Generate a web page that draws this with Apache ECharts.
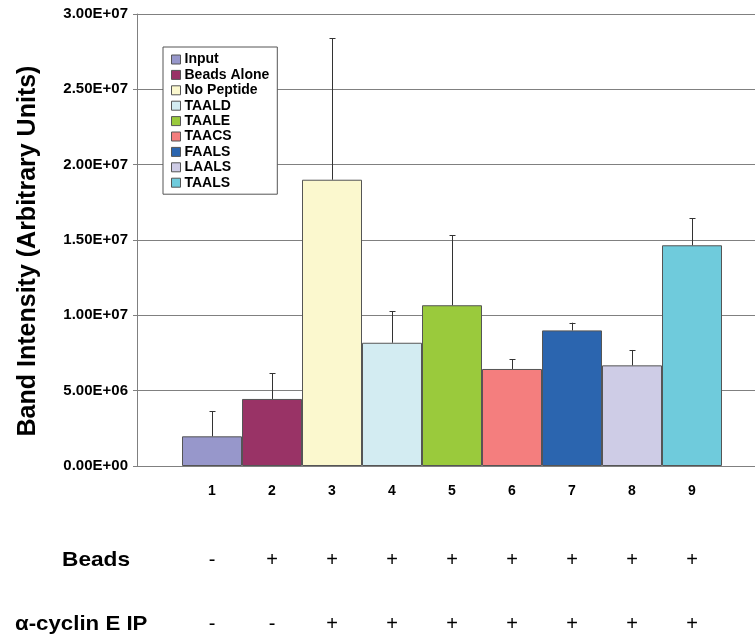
<!DOCTYPE html>
<html>
<head>
<meta charset="utf-8">
<script src="https://cdn.jsdelivr.net/npm/echarts@6/dist/echarts.min.js"></script>
<style>
  html, body { margin: 0; padding: 0; background: #ffffff; }
  #chart { width: 755px; height: 637px; }
</style>
</head>
<body>
<div id="chart"></div>
<script>
// Lane numbers under the bars
const lanes = ['1', '2', '3', '4', '5', '6', '7', '8', '9'];
// Sample names (legend order = lane order)
const samples = ['Input', 'Beads Alone', 'No Peptide', 'TAALD', 'TAALE', 'TAACS', 'FAALS', 'LAALS', 'TAALS'];
// Mean band intensity per lane
const intensity = [1.97e6, 4.45e6, 1.90e7, 8.18e6, 1.067e7, 6.44e6, 9.0e6, 6.68e6, 1.465e7];
// Upper error (standard deviation) per lane
const errorUp = [1.66e6, 1.72e6, 9.39e6, 2.09e6, 4.64e6, 0.66e6, 0.51e6, 1.02e6, 1.79e6];
// Condition rows shown below the lanes
const beadsRow = ['-', '+', '+', '+', '+', '+', '+', '+', '+'];
const ipRow = ['-', '-', '+', '+', '+', '+', '+', '+', '+'];
// Y axis range and step
const yMin = 0, yMax = 3e7, yStep = 5e6;

const colors = ['#9797CB', '#993366', '#FBF8CE', '#D3ECF2', '#9ACA3C', '#F47E7E', '#2B65AF', '#CECCE6', '#6FCBDC'];
const FONT = 'Liberation Sans, Arial, sans-serif';

function sci(v) {
  const parts = v.toExponential(2).split('e');
  const exp = parseInt(parts[1], 10);
  const sign = exp < 0 ? '-' : '+';
  const mag = String(Math.abs(exp)).padStart(2, '0');
  return parts[0] + 'E' + sign + mag;
}

const chart = echarts.init(document.getElementById('chart'), null, { renderer: 'canvas' });

const barSeries = samples.map((name, i) => ({
  name: name,
  type: 'bar',
  xAxisIndex: 1,
  yAxisIndex: 1,
  barWidth: '100%',
  barGap: '-100%',
  data: lanes.map((_, j) => (j === i ? intensity[i] : '-')),
  itemStyle: { color: colors[i], borderColor: '#555555', borderWidth: 1 },
  emphasis: { disabled: true },
  z: 2
}));

const errorSeries = {
  type: 'custom',
  xAxisIndex: 1,
  yAxisIndex: 1,
  z: 5,
  silent: true,
  data: intensity.map((v, i) => [i, v, v + errorUp[i]]),
  renderItem: function (params, api) {
    const base = api.coord([api.value(0), api.value(1)]);
    const top = api.coord([api.value(0), api.value(2)]);
    const cap = 3;
    const x = Math.round(base[0]) + 0.5;
    const st = { stroke: '#333333', lineWidth: 1 };
    return {
      type: 'group',
      children: [
        { type: 'line', shape: { x1: x, y1: base[1], x2: x, y2: top[1] }, style: st },
        { type: 'line', shape: { x1: x - cap, y1: Math.round(top[1]) + 0.5, x2: x + cap, y2: Math.round(top[1]) + 0.5 }, style: st }
      ]
    };
  }
};

chart.setOption({
  animation: false,
  backgroundColor: '#ffffff',
  grid: [
    { left: 137, top: 14, width: 630, height: 452 },
    { left: 182, top: 14, width: 540, height: 452 }
  ],
  xAxis: [
    {
      gridIndex: 0, type: 'value', min: 0, max: 1,
      axisLine: { show: true, lineStyle: { color: '#808080', width: 1 } },
      axisTick: { show: false }, axisLabel: { show: false }, splitLine: { show: false }
    },
    {
      gridIndex: 1, type: 'category', data: lanes,
      axisLine: { show: false }, axisTick: { show: false },
      axisLabel: { margin: 18, fontFamily: FONT, fontWeight: 'bold', fontSize: 14, color: '#000000' }
    },
    {
      gridIndex: 1, type: 'category', data: lanes, position: 'bottom', offset: 76,
      axisLine: { show: false }, axisTick: { show: false },
      axisLabel: { margin: 8, fontFamily: FONT, fontSize: 20, color: '#000000', formatter: (v, i) => beadsRow[i] }
    },
    {
      gridIndex: 1, type: 'category', data: lanes, position: 'bottom', offset: 140,
      axisLine: { show: false }, axisTick: { show: false },
      axisLabel: { margin: 8, fontFamily: FONT, fontSize: 20, color: '#000000', formatter: (v, i) => ipRow[i] }
    }
  ],
  yAxis: [
    {
      gridIndex: 0, type: 'value', min: yMin, max: yMax, interval: yStep,
      axisLine: { show: true, lineStyle: { color: '#808080', width: 1 } },
      axisTick: { show: true, inside: false, length: 4, lineStyle: { color: '#808080' } },
      axisLabel: { margin: 9, fontFamily: FONT, fontWeight: 'bold', fontSize: 15, color: '#000000', formatter: sci },
      splitLine: { show: true, lineStyle: { color: '#808080', width: 1 } }
    },
    {
      gridIndex: 1, type: 'value', min: yMin, max: yMax, interval: yStep, show: false,
      splitLine: { show: false }
    }
  ],
  legend: {
    data: samples,
    orient: 'vertical',
    left: 163,
    top: 47,
    padding: [5, 8, 4, 8],
    itemWidth: 9,
    itemHeight: 9,
    itemGap: 0.4,
    icon: 'rect',
    backgroundColor: '#ffffff',
    borderColor: '#555555',
    borderWidth: 1,
    selectedMode: false,
    itemStyle: { borderColor: '#555555', borderWidth: 1 },
    textStyle: { fontFamily: FONT, fontWeight: 'bold', fontSize: 14, color: '#000000', lineHeight: 15, padding: [0, 0, 0, -1] }
  },
  graphic: [
    {
      type: 'text', x: 28, y: 251, rotation: Math.PI / 2,
      style: { text: 'Band Intensity (Arbitrary Units)', fontFamily: FONT, fontWeight: 'bold', fontSize: 25, fill: '#000000', align: 'center', verticalAlign: 'middle' }
    },
    {
      type: 'text', x: 62, y: 560, scaleX: 1.08,
      style: { text: 'Beads', fontFamily: FONT, fontWeight: 'bold', fontSize: 21, fill: '#000000', align: 'left', verticalAlign: 'middle' }
    },
    {
      type: 'text', x: 15, y: 624, scaleX: 1.06,
      style: { text: 'α-cyclin E IP', fontFamily: FONT, fontWeight: 'bold', fontSize: 21, fill: '#000000', align: 'left', verticalAlign: 'middle' }
    }
  ],
  series: barSeries.concat([errorSeries])
});
</script>
</body>
</html>
